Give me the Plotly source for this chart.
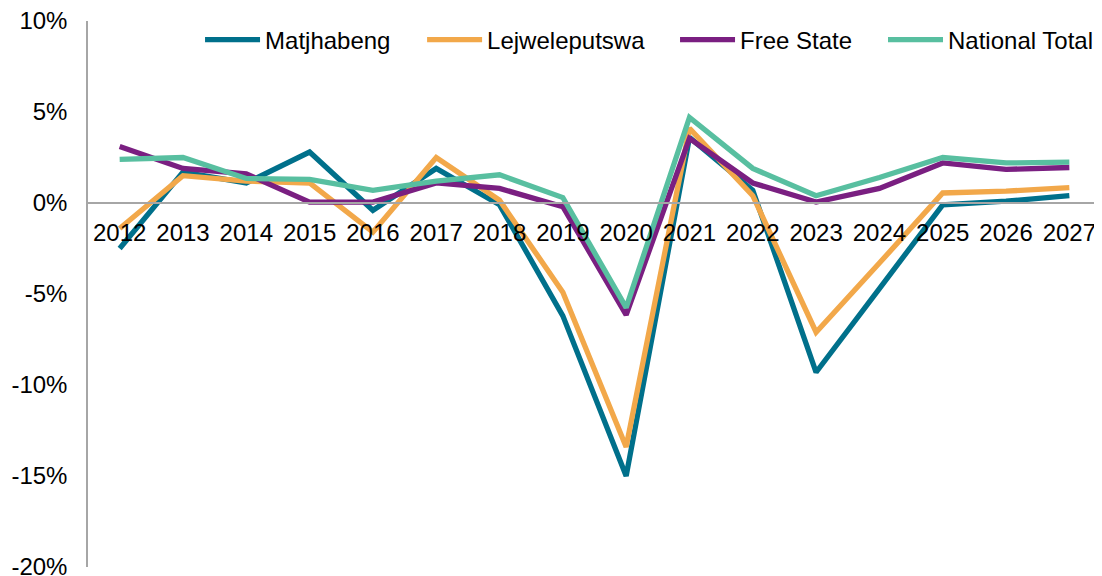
import plotly.graph_objects as go

years = ["2012", "2013", "2014", "2015", "2016", "2017", "2018", "2019",
         "2020", "2021", "2022", "2023", "2024", "2025", "2026", "2027"]

matjhabeng = [-2.5, 1.7, 1.1, 2.8, -0.4, 1.9, -0.1, -6.2,
              -15.0, 3.6, 0.7, -9.3, -4.7, -0.1, 0.1, 0.4]
lejweleputswa = [-1.4, 1.5, 1.2, 1.1, -1.6, 2.5, 0.15, -4.9,
                 -13.4, 4.1, 0.4, -7.1, -3.3, 0.55, 0.65, 0.85]
free_state = [3.1, 1.9, 1.6, 0.05, 0.05, 1.1, 0.8, -0.2,
              -6.15, 3.55, 1.1, 0.05, 0.8, 2.2, 1.85, 1.95]
national_total = [2.4, 2.5, 1.35, 1.3, 0.7, 1.2, 1.55, 0.3,
                  -5.75, 4.7, 1.9, 0.4, 1.4, 2.5, 2.2, 2.25]

series = [
    ("Matjhabeng", matjhabeng, "#00708B"),
    ("Lejweleputswa", lejweleputswa, "#F2A84A"),
    ("Free State", free_state, "#7A1F81"),
    ("National Total", national_total, "#58BFA0"),
]
legend_x = [0.1106, 0.3298, 0.5795, 0.7848]

y_ticks = [10, 5, 0, -5, -10, -15, -20]
y_tick_text = [f"{v}%" for v in y_ticks]

FONT = "Arial, Liberation Sans, sans-serif"

fig = go.Figure()
legend_ids = ["legend", "legend2", "legend3", "legend4"]
for (name, vals, color), lid in zip(series, legend_ids):
    fig.add_trace(go.Scatter(
        x=years, y=vals, name=name, mode="lines",
        line=dict(color=color, width=5.3), legend=lid,
    ))

layout_legends = {}
for lid, lx in zip(legend_ids, legend_x):
    layout_legends[lid] = dict(
        orientation="h", x=lx, xanchor="left", y=0.965, yanchor="middle",
        font=dict(size=24), bgcolor="rgba(0,0,0,0)", itemwidth=55,
    )

fig.update_layout(
    width=1094, height=568,
    margin=dict(l=80, r=1, t=13, b=9, autoexpand=False),
    paper_bgcolor="white", plot_bgcolor="white",
    font=dict(family=FONT, size=24, color="black"),
    showlegend=True,
    xaxis=dict(type="category", anchor="free", position=20 / 30,
               range=[-0.5, 15.5], automargin=False,
               showline=True, linecolor="#A6A6A6", linewidth=1.5,
               showgrid=False, ticks="", ticklabelstandoff=8,
               ticklabeloverflow="allow", tickfont=dict(size=24)),
    yaxis=dict(range=[-20, 10], tickvals=y_ticks, ticktext=y_tick_text,
               automargin=False,
               showline=True, linecolor="#A6A6A6", linewidth=1.5,
               showgrid=False, zeroline=False, ticks="", ticklabelstandoff=14,
               ticklabeloverflow="allow", tickfont=dict(size=24)),
    **layout_legends,
)

fig.write_html("out.html")
